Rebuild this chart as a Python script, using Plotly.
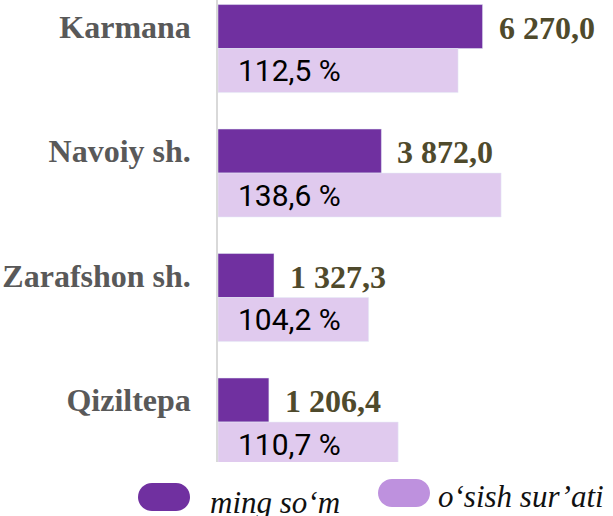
import plotly.graph_objects as go

# ---- data ----
regions = ["Karmana", "Navoiy sh.", "Zarafshon sh.", "Qiziltepa"]
amount = [6270.0, 3872.0, 1327.3, 1206.4]          # ming so'm
growth_pct = [112.5, 138.6, 104.2, 110.7]          # o'sish sur'ati, %
growth_bar = [5690, 6710, 3570, 4270]              # drawn length of the growth bars
legend_names = ["ming so\u2018m", "o\u2018sish sur\u2019ati"]

DARK = "#7030A0"
LIGHT = "#E0CAEE"
LEGEND_LIGHT = "#BE91DE"
SERIF = "Liberation Serif, Times New Roman, serif"
SANS = "Roboto, Liberation Sans, sans-serif"

W, H = 613, 516
ML, MR, MT, MB = 218, 0, 0, 54

def fmt_amount(v):
    return f"{v:,.1f}".replace(",", " ").replace(".", ",")

def fmt_pct(v):
    return f"{v:.1f}".replace(".", ",") + " %"

fig = go.Figure()
fig.add_trace(go.Bar(y=regions, x=amount, orientation="h", marker_color=DARK,
                     name=legend_names[0], showlegend=False, hoverinfo="skip"))
fig.add_trace(go.Bar(y=regions, x=growth_bar, orientation="h", marker_color=LIGHT,
                     name=legend_names[1], showlegend=False, hoverinfo="skip"))

ann = []
for r, v in zip(regions, amount):
    ann.append(dict(x=v, y=r, xref="x", yref="y", text=f"<b>{fmt_amount(v)}</b>",
                    showarrow=False, xanchor="left", yanchor="middle", xshift=14, yshift=21,
                    font=dict(family=SERIF, size=32, color="#4F4A2C")))
for r, p in zip(regions, growth_pct):
    ann.append(dict(x=0, y=r, xref="x", yref="y", text=fmt_pct(p),
                    showarrow=False, xanchor="left", yanchor="middle", xshift=18, yshift=-22,
                    font=dict(family=SANS, size=30, color="#000000")))

# legend (pill markers + italic labels)
def px_to_paper(px, py):
    return (px - ML) / (W - ML - MR), (H - MB - py) / (H - MT - MB)

k = 0.5523 * 14
pill = (f"M -12,-14 L 12,-14 C {12+k},-14 26,{-k} 26,0 C 26,{k} {12+k},14 12,14 "
        f"L -12,14 C {-12-k},14 -26,{k} -26,0 C -26,{-k} {-12-k},-14 -12,-14 Z")
shapes = []
for (cx, cy), col in [((164, 497), DARK), ((404, 493), LEGEND_LIGHT)]:
    ax_, ay_ = px_to_paper(cx, cy)
    shapes.append(dict(type="path", xref="paper", yref="paper", xsizemode="pixel", ysizemode="pixel",
                       xanchor=ax_, yanchor=ay_, path=pill, fillcolor=col, line=dict(width=0)))
for (lx, ly), name in [((208, 502), legend_names[0]), ((436, 497), legend_names[1])]:
    ax_, ay_ = px_to_paper(lx, ly)
    ann.append(dict(x=ax_, y=ay_, xref="paper", yref="paper", text=f"<i>{name}</i>",
                    showarrow=False, xanchor="left", yanchor="middle",
                    font=dict(family=SERIF, size=31, color="#111111")))

px_per_unit = 23.7
fig.update_layout(
    width=W, height=H, margin=dict(l=ML, r=MR, t=MT, b=MB, pad=0),
    paper_bgcolor="white", plot_bgcolor="white",
    barmode="group", bargap=0.293, bargroupgap=0,
    showlegend=False,
    annotations=ann, shapes=shapes,
    xaxis=dict(range=[0, (W - ML - MR) * px_per_unit], visible=False, showgrid=False, zeroline=False),
    yaxis=dict(type="category", categoryorder="array", categoryarray=regions,
               range=[3.321, -0.39], showline=True, linecolor="#D9D9D9", linewidth=1.5,
               showgrid=False, zeroline=False, ticks="", ticklabelshift=22, ticklabelstandoff=19,
               tickfont=dict(family=SERIF, size=32, color="#595959"), tickprefix="<b>", ticksuffix="</b>"),
)

fig.write_html("out.html", config={"displayModeBar": False},
               post_script="document.body.style.margin='0px';")
